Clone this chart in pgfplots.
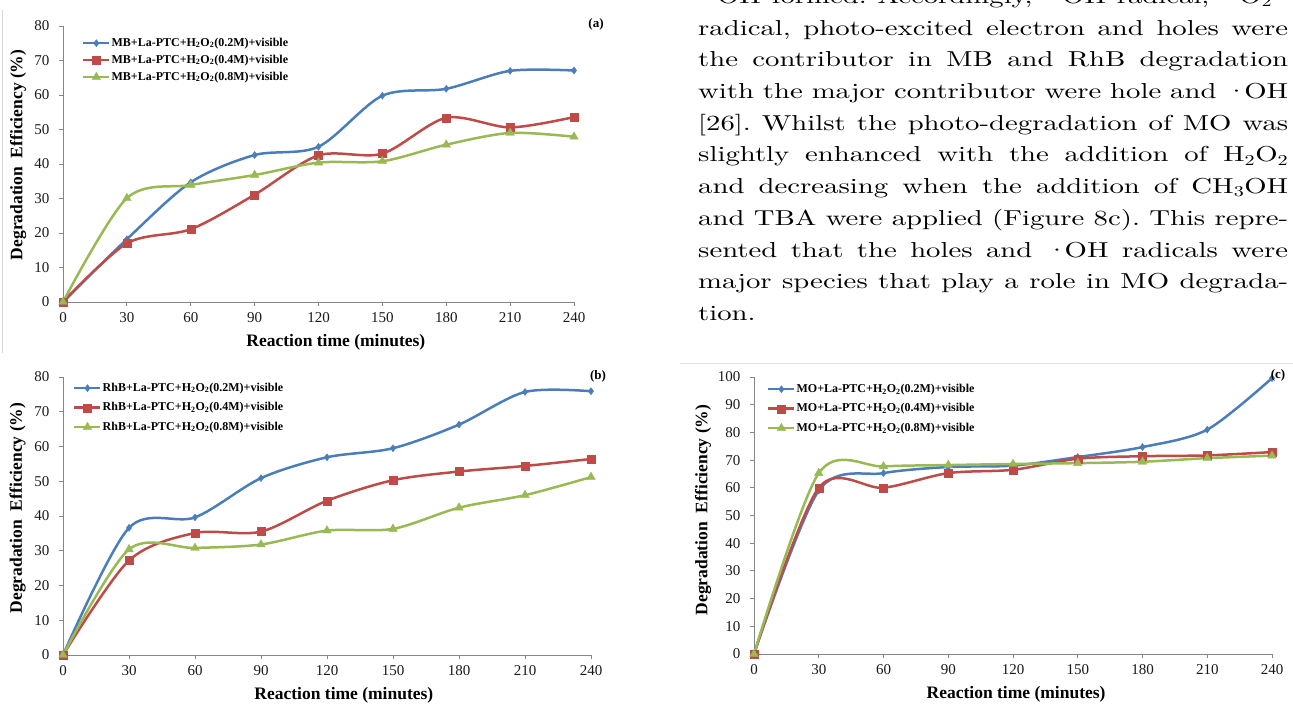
\documentclass[border=0pt]{standalone}
\usepackage{fontspec}
\setmainfont{Liberation Serif}
\newfontfamily\parafont{lmroman10-regular.otf}[FakeStretch=1.33]
\usepackage{pgfplots}
\pgfplotsset{compat=1.18}

\definecolor{cblue}{HTML}{4A7EBB}
\definecolor{cred}{HTML}{BE4B48}
\definecolor{cgreen}{HTML}{98B954}
\definecolor{axgray}{HTML}{868686}

% radical dot sitting close to the following letters
\newcommand{\rad}{·\kern-0.16em}

\pgfplotsset{
  degr/.style={
    scale only axis,
    xmin=0, xmax=240, ymin=0,
    xtick={0,30,...,240},
    axis x line*=bottom, axis y line*=left,
    axis line style={axgray, line width=0.8pt},
    tick style={axgray, line width=0.8pt},
    tick align=outside, major tick length=4pt,
    /pgf/number format/assume math mode=true,
    tick label style={font=\fontsize{15}{15}\selectfont, text=black!90},
    xticklabel style={yshift=-3pt},
    yticklabel style={xshift=-6pt},
    xlabel={Reaction time (minutes)},
    ylabel={Degradation\ \ Efficiency (\%)},
    label style={font=\fontsize{17.5}{17.5}\selectfont\bfseries, anchor=center},
    clip=false,
    legend cell align=left,
    legend image code/.code={\draw[mark repeat=2,mark phase=2] plot coordinates {(0pt,0pt) (13pt,0pt) (26pt,0pt)};},
    legend style={draw=none, fill=none, anchor=north west, inner sep=0pt,
      font=\fontsize{12}{12}\selectfont\bfseries,
      nodes={inner sep=1pt, text height=8.5pt, text depth=2.5pt}},
  },
  sblue/.style={cblue, line width=2.5pt, smooth, mark=diamond*, mark size=3.6pt, mark options={solid, line width=0.3pt}},
  sred/.style={cred, line width=2.5pt, smooth, mark=square*, mark size=4pt, mark options={solid, line width=0.3pt}},
  sgreen/.style={cgreen, line width=2.5pt, smooth, mark=triangle*, mark size=5pt, mark options={solid, line width=0.3pt}},
}

\begin{document}
\frenchspacing
\begin{tikzpicture}
\path[use as bounding box] (0pt,0pt) rectangle (1293pt,704pt);

% thin frame lines from the page
\draw[black!15, line width=0.8pt] (2pt,694pt) -- (2pt,351pt);
\draw[black!12, line width=0.8pt] (680pt,341pt) -- (1293pt,341pt);

% (a) MB
\begin{axis}[degr, at={(63pt,402pt)}, anchor=south west,
  width=511pt, height=276pt, ymax=80, ytick={0,10,...,80},
  xlabel style={at={(axis description cs:0.534,-0.145)}},
  ylabel style={at={(axis description cs:-0.088,0.533)}},
  legend style={at={(axis description cs:0.037,0.962)}, row sep=4pt}]
\addplot[sblue] coordinates {(0,0) (30,18.2) (60,34.7) (90,42.6) (120,45.0) (150,59.8) (180,61.8) (210,67.0) (240,67.1)};
\addplot[sred] coordinates {(0,0) (30,17.0) (60,21.1) (90,31.1) (120,42.5) (150,43.0) (180,53.4) (210,50.6) (240,53.6)};
\addplot[sgreen] coordinates {(0,0) (30,30.1) (60,33.9) (90,36.8) (120,40.4) (150,40.8) (180,45.6) (210,49.0) (240,47.9)};
\legend{MB+La-PTC+H\textsubscript{2}O\textsubscript{2}(0.2M)+visible,
        MB+La-PTC+H\textsubscript{2}O\textsubscript{2}(0.4M)+visible,
        MB+La-PTC+H\textsubscript{2}O\textsubscript{2}(0.8M)+visible}
\end{axis}

% (b) RhB
\begin{axis}[degr, at={(63pt,49pt)}, anchor=south west,
  width=528pt, height=278pt, ymax=80, ytick={0,10,...,80},
  xlabel style={at={(axis description cs:0.532,-0.144)}},
  ylabel style={at={(axis description cs:-0.086,0.529)}},
  legend style={at={(axis description cs:0.019,0.984)}, row sep=6.5pt}]
\addplot[sblue] coordinates {(0,0) (30,36.6) (60,39.6) (90,50.9) (120,56.9) (150,59.5) (180,66.3) (210,75.7) (240,75.9)};
\addplot[sred] coordinates {(0,0) (30,27.2) (60,35.1) (90,35.5) (120,44.4) (150,50.3) (180,52.8) (210,54.4) (240,56.4)};
\addplot[sgreen] coordinates {(0,0) (30,30.4) (60,30.8) (90,31.8) (120,35.8) (150,36.3) (180,42.4) (210,46.0) (240,51.2)};
\legend{RhB+La-PTC+H\textsubscript{2}O\textsubscript{2}(0.2M)+visible,
        RhB+La-PTC+H\textsubscript{2}O\textsubscript{2}(0.4M)+visible,
        RhB+La-PTC+H\textsubscript{2}O\textsubscript{2}(0.8M)+visible}
\end{axis}

% (c) MO
\begin{axis}[degr, at={(754pt,50pt)}, anchor=south west,
  width=518pt, height=277pt, ymax=100, ytick={0,10,...,100},
  xlabel style={at={(axis description cs:0.506,-0.144)}},
  ylabel style={at={(axis description cs:-0.098,0.52)}},
  legend style={at={(axis description cs:0.025,0.980)}, row sep=6.5pt}]
\addplot[sblue] coordinates {(0,0) (30,59.0) (60,65.3) (90,67.5) (120,68.0) (150,71.1) (180,74.7) (210,81.0) (240,99.6)};
\addplot[sred] coordinates {(0,0) (30,60.0) (60,60.0) (90,65.3) (120,66.5) (150,70.5) (180,71.4) (210,71.7) (240,72.9)};
\addplot[sgreen] coordinates {(0,0) (30,65.3) (60,67.7) (90,68.2) (120,68.6) (150,68.9) (180,69.4) (210,70.7) (240,71.6)};
\legend{MO+La-PTC+H\textsubscript{2}O\textsubscript{2}(0.2M)+visible,
        MO+La-PTC+H\textsubscript{2}O\textsubscript{2}(0.4M)+visible,
        MO+La-PTC+H\textsubscript{2}O\textsubscript{2}(0.8M)+visible}
\end{axis}

% panel letters
\node[font=\fontsize{13}{13}\selectfont\bfseries] at (596pt,680pt) {(a)};
\node[font=\fontsize{13}{13}\selectfont\bfseries] at (598pt,328pt) {(b)};
\node[font=\fontsize{13}{13}\selectfont\bfseries] at (1278pt,329pt) {(c)};

% paragraph text beside panel (a); its first line is cut by the page top
\begin{scope}[every node/.style={anchor=base west, inner sep=0pt, font=\parafont\fontsize{21.6}{31.7}\selectfont}]
\node at (698pt,700.5pt) {\makebox[590pt][s]{\rad OH formed. Accordingly, \rad OH radical, \rad O\textsubscript{2}\textsuperscript{−}}};
\node at (698pt,668.8pt) {\makebox[590pt][s]{radical, photo-excited electron and holes were}};
\node at (698pt,637.1pt) {\makebox[590pt][s]{the contributor in MB and RhB degradation}};
\node at (698pt,605.4pt) {\makebox[590pt][s]{with the major contributor were hole and \rad OH}};
\node at (698pt,573.7pt) {\makebox[590pt][s]{[26]. Whilst the photo-degradation of MO was}};
\node at (698pt,542.0pt) {\makebox[590pt][s]{slightly enhanced with the addition of H\textsubscript{2}O\textsubscript{2}}};
\node at (698pt,510.3pt) {\makebox[590pt][s]{and decreasing when the addition of CH\textsubscript{3}OH}};
\node at (698pt,478.6pt) {\makebox[590pt][s]{and TBA were applied (Figure 8c). This repre-}};
\node at (698pt,446.9pt) {\makebox[590pt][s]{sented that the holes and \rad OH radicals were}};
\node at (698pt,415.2pt) {\makebox[590pt][s]{major species that play a role in MO degrada-}};
\node at (698pt,383.5pt) {tion.};
\end{scope}
\end{tikzpicture}
\end{document}
